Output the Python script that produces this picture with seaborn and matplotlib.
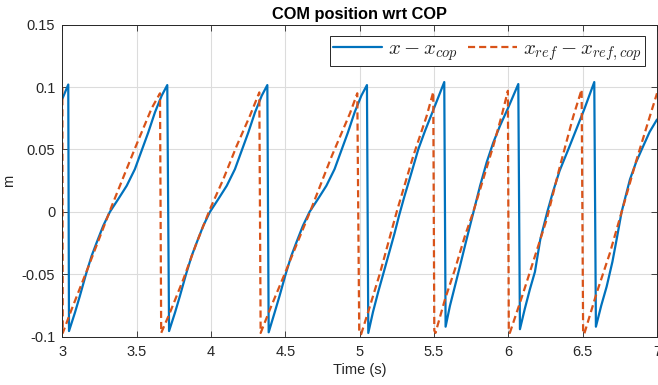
import numpy as np
import pandas as pd
import matplotlib
matplotlib.use("Agg")
import matplotlib.pyplot as plt
import seaborn as sns

# --- data ---
t_actual = [3.000, 3.040,
            3.045, 3.085, 3.118, 3.159, 3.197, 3.231, 3.275, 3.320, 3.376, 3.433, 3.488, 3.533, 3.578, 3.623, 3.668, 3.706,
            3.718, 3.758, 3.791, 3.832, 3.870, 3.904, 3.948, 3.993, 4.049, 4.106, 4.161, 4.206, 4.251, 4.296, 4.341, 4.379,
            4.388, 4.428, 4.461, 4.502, 4.540, 4.574, 4.618, 4.663, 4.719, 4.776, 4.831, 4.876, 4.921, 4.966, 5.011, 5.049,
            5.058, 5.090, 5.125, 5.165, 5.200, 5.235, 5.265, 5.300, 5.345, 5.394, 5.440, 5.490, 5.569,
            5.578, 5.607, 5.641, 5.675, 5.708, 5.742, 5.776, 5.810, 5.854, 5.899, 5.944, 6.000, 6.067,
            6.078, 6.110, 6.145, 6.179, 6.215, 6.262, 6.300, 6.345, 6.410, 6.460, 6.510, 6.578,
            6.589, 6.625, 6.661, 6.700, 6.730, 6.762, 6.818, 6.860, 6.907, 6.950, 7.000]
x_actual = [0.0905, 0.1020,
            -0.0955, -0.0807, -0.0674, -0.0500, -0.0353, -0.0246, -0.0112, 0.0000, 0.0102, 0.0209, 0.0342, 0.0489, 0.0636, 0.0797, 0.0930, 0.1016,
            -0.0955, -0.0807, -0.0674, -0.0500, -0.0353, -0.0246, -0.0112, 0.0000, 0.0102, 0.0209, 0.0342, 0.0489, 0.0636, 0.0797, 0.0930, 0.1016,
            -0.0965, -0.0807, -0.0674, -0.0500, -0.0353, -0.0246, -0.0112, 0.0000, 0.0102, 0.0209, 0.0342, 0.0489, 0.0636, 0.0797, 0.0930, 0.1016,
            -0.0970, -0.0800, -0.0640, -0.0470, -0.0320, -0.0170, -0.0030, 0.0120, 0.0300, 0.0500, 0.0650, 0.0800, 0.1040,
            -0.0920, -0.0754, -0.0594, -0.0433, -0.0273, -0.0112, 0.0048, 0.0209, 0.0396, 0.0556, 0.0690, 0.0837, 0.1024,
            -0.0940, -0.0780, -0.0620, -0.0480, -0.0220, 0.0000, 0.0160, 0.0330, 0.0520, 0.0670, 0.0820, 0.1040,
            -0.0920, -0.0750, -0.0600, -0.0400, -0.0210, 0.0000, 0.0260, 0.0400, 0.0526, 0.0640, 0.0740]

t_ref = [3.000, 3.003, 3.063, 3.175, 3.332, 3.489, 3.601, 3.657,
         3.665, 3.724, 3.814, 3.904, 3.993, 4.083, 4.173, 4.262, 4.325,
         4.334, 4.397, 4.498, 4.580, 4.666, 4.812, 4.935, 4.984,
         4.997, 5.010, 5.069, 5.137, 5.249, 5.360, 5.450, 5.495,
         5.502, 5.510, 5.574, 5.641, 5.708, 5.764, 5.831, 5.899, 5.955, 5.997,
         6.003, 6.010, 6.100, 6.258, 6.347, 6.437, 6.493,
         6.503, 6.510, 6.594, 6.683, 6.773, 6.863, 6.952, 7.000]
x_ref = [0.100, -0.097, -0.078, -0.044, 0.0045, 0.051, 0.083, 0.095,
         -0.097, -0.0807, -0.054, -0.0246, 0.0021, 0.0262, 0.0529, 0.077, 0.0957,
         -0.097, -0.078, -0.049, -0.025, 0.000, 0.0446, 0.079, 0.095,
         -0.096, -0.098, -0.0756, -0.049, 0.000, 0.0446, 0.0766, 0.096,
         -0.095, -0.097, -0.070, -0.046, -0.0193, 0.000, 0.0262, 0.0529, 0.077, 0.097,
         -0.095, -0.097, -0.065, -0.006, 0.0365, 0.0766, 0.098,
         -0.096, -0.098, -0.065, -0.033, 0.0045, 0.042, 0.0766, 0.095]

series_labels = [r"$x - x_{cop}$", r"$x_{ref} - x_{ref,cop}$"]
x_ticks = [3, 3.5, 4, 4.5, 5, 5.5, 6, 6.5, 7]
x_tick_labels = ["3", "3.5", "4", "4.5", "5", "5.5", "6", "6.5", "7"]
y_ticks = [-0.1, -0.05, 0, 0.05, 0.1, 0.15]
y_tick_labels = ["-0.1", "-0.05", "0", "0.05", "0.1", "0.15"]

sns.set_style("ticks")
plt.rcParams["font.family"] = ["Liberation Sans", "DejaVu Sans"]
plt.rcParams["mathtext.fontset"] = "cm"
plt.rcParams["axes.unicode_minus"] = False

df = pd.concat([
    pd.DataFrame({"t": t_actual, "v": x_actual, "s": series_labels[0]}),
    pd.DataFrame({"t": t_ref, "v": x_ref, "s": series_labels[1]}),
], ignore_index=True)

fig = plt.figure(figsize=(6.58, 3.85), dpi=100)
ax = fig.add_axes([0.0947, 0.1255, 0.9038, 0.8105])

dark = "#262626"
sns.lineplot(data=df, x="t", y="v", hue="s", style="s",
             palette=["#0072BD", "#D95319"], dashes=[(None, None), (3.2, 1.8)],
             sort=False, estimator=None, linewidth=1.6, ax=ax, legend=True)

ax.set_xlim(3, 7)
ax.set_ylim(-0.1, 0.15)
ax.set_xticks(x_ticks)
ax.set_xticklabels(x_tick_labels)
ax.set_yticks(y_ticks)
ax.set_yticklabels(y_tick_labels)
ax.grid(True, color="#DCDCDC", linewidth=0.8)
ax.set_axisbelow(True)
ax.tick_params(direction="in", top=True, right=True, length=4, width=0.6,
               colors=dark, labelsize=10.5, labelcolor=dark)
ax.tick_params(axis="x", pad=6)
ax.tick_params(axis="y", pad=5)
for sp in ax.spines.values():
    sp.set_color(dark)
    sp.set_linewidth(0.7)
    sp.set_visible(True)
ax.set_xlabel("Time (s)", fontsize=10.5, color=dark, labelpad=3)
ax.set_ylabel("m", fontsize=10.5, color=dark)
ax.yaxis.set_label_coords(-0.078, 0.5)
ax.set_title("COM position wrt COP", fontsize=11.8, fontweight="bold", color="black", pad=4)

h, l = ax.get_legend_handles_labels()
leg = ax.legend(h, series_labels, loc="upper right", bbox_to_anchor=(0.98, 0.962),
                ncol=2, fontsize=15, frameon=True, fancybox=False, framealpha=1,
                edgecolor=dark, handlelength=2.35, columnspacing=0.5,
                handletextpad=0.3, borderpad=0.15, borderaxespad=0)
leg.get_frame().set_linewidth(0.7)

fig.savefig("out.png", dpi=100)
